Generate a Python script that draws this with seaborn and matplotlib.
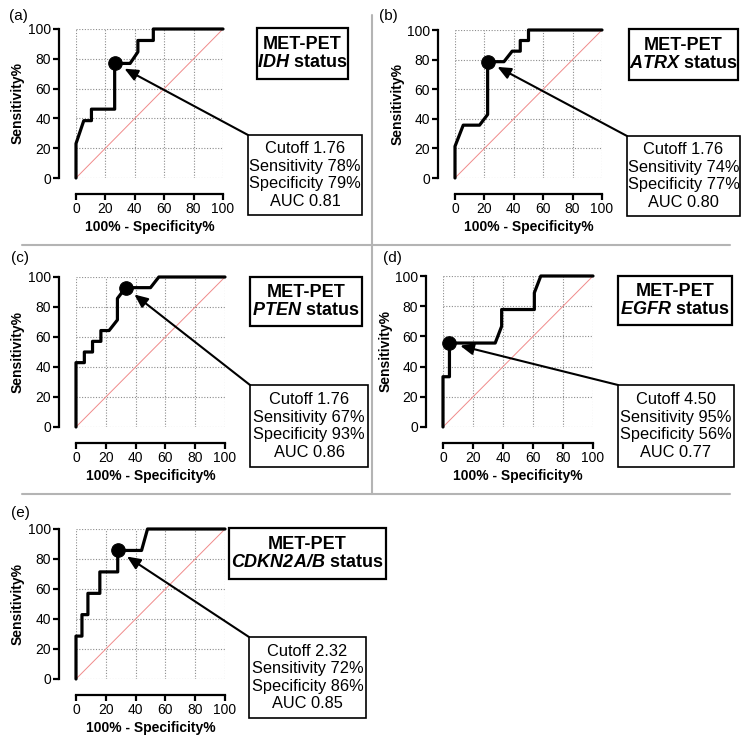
import numpy as np
import pandas as pd
import matplotlib
matplotlib.use("Agg")
import matplotlib.pyplot as plt
import seaborn as sns
from matplotlib.patches import Rectangle, ConnectionPatch
from matplotlib.lines import Line2D

# ---- data ----
genes = ["IDH", "ATRX", "PTEN", "EGFR", "CDKN2A/B"]
tags = ["(a)", "(b)", "(c)", "(d)", "(e)"]

fpr_idh = [0, 0, 5.3, 10.5, 10.5, 26.3, 26.3, 36.8, 42.1, 42.1, 52.6, 52.6, 100]
tpr_idh = [0, 23.1, 38.5, 38.5, 46.2, 46.2, 76.9, 76.9, 84.6, 92.3, 92.3, 100, 100]

fpr_atrx = [0, 0, 5.6, 16.7, 22.2, 22.2, 33.3, 38.9, 44.4, 44.4, 50, 50, 100]
tpr_atrx = [0, 21.4, 35.7, 35.7, 42.9, 78.6, 78.6, 85.7, 85.7, 92.9, 92.9, 100, 100]

fpr_pten = [0, 0, 5.6, 5.6, 11.1, 11.1, 16.7, 16.7, 22.2, 27.8, 27.8, 33.3, 50, 55.6, 100]
tpr_pten = [0, 42.9, 42.9, 50, 50, 57.1, 57.1, 64.3, 64.3, 71.4, 85.7, 92.9, 92.9, 100, 100]

fpr_egfr = [0, 0, 4.3, 4.3, 34.8, 39.1, 39.1, 60.9, 60.9, 65.2, 100]
tpr_egfr = [0, 33.3, 33.3, 55.6, 55.6, 66.7, 77.8, 77.8, 88.9, 100, 100]

fpr_cdkn = [0, 0, 4, 4, 8, 8, 16, 16, 28, 28, 44, 48, 100]
tpr_cdkn = [0, 28.6, 28.6, 42.9, 42.9, 57.1, 57.1, 71.4, 71.4, 85.7, 85.7, 100, 100]

best_x = [26.3, 22.2, 33.3, 4.3, 28]
best_y = [76.9, 78.6, 92.9, 55.6, 85.7]

cutoffs = ["1.76", "1.76", "1.76", "4.50", "2.32"]
sens = [78, 74, 67, 95, 72]
spec = [79, 77, 93, 56, 86]
aucs = ["0.81", "0.80", "0.86", "0.77", "0.85"]

curves = [(fpr_idh, tpr_idh), (fpr_atrx, tpr_atrx), (fpr_pten, tpr_pten),
          (fpr_egfr, tpr_egfr), (fpr_cdkn, tpr_cdkn)]
ticks = [0, 20, 40, 60, 80, 100]

# ---- layout (pixels from top-left of a 750x750 canvas) ----
W = H = 750.0
# axes box: left, top, right, bottom
ax_box = [(76, 29, 223, 178), (455, 30, 602, 178), (76, 277, 225, 427),
          (443, 276, 593, 427), (76, 529, 225, 679)]
ylab_x = [18, 398, 18, 386, 18]
tag_pos = [(18, 16), (388, 16), (20, 258), (392, 258), (20, 513)]
title_box = [(257, 28, 348, 79), (629, 29, 738, 80), (250, 277, 362, 326),
             (618, 276, 732, 325), (229, 528, 386, 579)]
info_box = [(248, 135, 362, 215), (627, 136, 740, 216), (250, 385, 368, 467),
            (618, 385, 734, 467), (249, 637, 366, 718)]


def fx(x):
    return x / W


def fy(y):
    return 1 - y / H


sns.set_style("white")
plt.rcParams["font.family"] = ["Liberation Sans", "DejaVu Sans"]
plt.rcParams["mathtext.fontset"] = "custom"
plt.rcParams["mathtext.bfit"] = "Liberation Sans:italic:bold"
plt.rcParams["mathtext.it"] = "Liberation Sans:italic"
plt.rcParams["mathtext.rm"] = "Liberation Sans"
for k in ["text.color", "axes.labelcolor", "xtick.color", "ytick.color"]:
    plt.rcParams[k] = "black"

fig = plt.figure(figsize=(7.5, 7.5), dpi=100)
fig.patch.set_facecolor("white")

for i in range(5):
    l, t, r, b = ax_box[i]
    ax = fig.add_axes([fx(l), fy(b), (r - l) / W, (b - t) / H])
    fpr, tpr = curves[i]
    df = pd.DataFrame({"fpr": fpr, "tpr": tpr})

    # reference diagonal
    ax.plot([0, 100], [0, 100], color="#f08a8a", lw=0.7, zorder=2)
    sns.lineplot(data=df, x="fpr", y="tpr", sort=False, estimator=None,
                 color="black", lw=2.3, ax=ax, zorder=4, clip_on=False)
    sns.scatterplot(x=[best_x[i]], y=[best_y[i]], color="black", s=95,
                    ax=ax, zorder=5, clip_on=False, edgecolor="black")

    ax.set_xlim(0, 100)
    ax.set_ylim(0, 100)
    ax.set_xticks(ticks)
    ax.set_yticks(ticks)
    ax.set_xticklabels([str(v) for v in ticks], fontweight="bold", fontsize=10)
    ax.set_yticklabels([str(v) for v in ticks], fontweight="bold", fontsize=10)
    ax.grid(True, ls=(0, (1, 1.5)), color="#8c8c8c", lw=0.8)
    ax.yaxis.get_gridlines()[0].set_visible(False)
    ax.xaxis.get_gridlines()[0].set_visible(False)
    ax.set_axisbelow(True)
    for s in ["top", "right"]:
        ax.spines[s].set_visible(False)
    ax.spines["left"].set_position(("outward", 12))
    ax.spines["bottom"].set_position(("outward", 11.5))
    for s in ["left", "bottom"]:
        ax.spines[s].set_linewidth(1.6)
        ax.spines[s].set_color("black")
    ax.tick_params(axis="both", direction="out", length=4.5, width=1.6,
                   color="black", pad=1.5, bottom=True, left=True)

    ax.set_xlabel("100% - Specificity%", fontweight="bold", fontsize=10,
                  labelpad=3)
    ax.set_ylabel("Sensitivity%", fontweight="bold", fontsize=10, va="center")
    ax.yaxis.set_label_coords((ylab_x[i] - l) / (r - l), 0.5)

    # panel tag
    fig.text(fx(tag_pos[i][0]), fy(tag_pos[i][1]), tags[i], fontsize=11,
             ha="center", va="center")

    # title box
    tl, tt, tr, tb = title_box[i]
    fig.add_artist(Rectangle((fx(tl), fy(tb)), (tr - tl) / W, (tb - tt) / H,
                             transform=fig.transFigure, fc="white",
                             ec="black", lw=1.6, zorder=6))
    fig.text(fx((tl + tr) / 2), fy((tt + tb) / 2),
             "MET-PET\n$\\bfit{" + genes[i] + "}$ status",
             fontsize=13, fontweight="bold", ha="center", va="center",
             linespacing=1.15, zorder=7)

    # info box with arrow
    il, it, ir, ib = info_box[i]
    fig.add_artist(ConnectionPatch(
        xyA=(fx(il), fy(it)), coordsA=fig.transFigure,
        xyB=(best_x[i], best_y[i]), coordsB=ax.transData,
        arrowstyle="-|>,head_length=0.8,head_width=0.35",
        mutation_scale=10, lw=1.5, color="black", fc="black",
        shrinkA=0, shrinkB=8, zorder=5))
    fig.add_artist(Rectangle((fx(il), fy(ib)), (ir - il) / W, (ib - it) / H,
                             transform=fig.transFigure, fc="white",
                             ec="black", lw=1.2, zorder=6))
    info = (f"Cutoff {cutoffs[i]}\nSensitivity {sens[i]}%\n"
            f"Specificity {spec[i]}%\nAUC {aucs[i]}")
    fig.text(fx((il + ir) / 2), fy((it + ib) / 2), info, fontsize=11.8,
             ha="center", va="center", linespacing=1.2, zorder=7)

# separators between panels
sep = "#b4b4b4"
fig.add_artist(Line2D([fx(22), fx(730)], [fy(245), fy(245)], color=sep, lw=1.5))
fig.add_artist(Line2D([fx(22), fx(730)], [fy(494), fy(494)], color=sep, lw=1.5))
fig.add_artist(Line2D([fx(372), fx(372)], [fy(15), fy(494)], color=sep, lw=1.5))

fig.savefig("out.png", dpi=100)
